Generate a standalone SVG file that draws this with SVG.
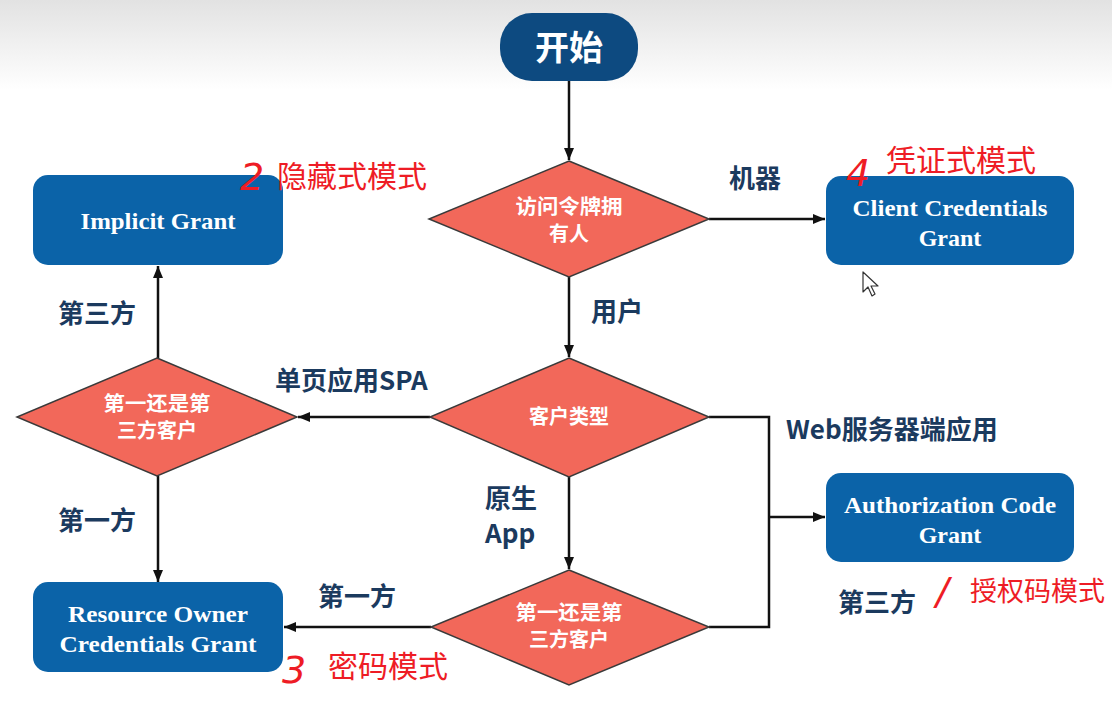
<svg xmlns="http://www.w3.org/2000/svg" width="1112" height="711" viewBox="0 0 1112 711">
<defs>
<linearGradient id="bg" x1="0" y1="0" x2="0" y2="1">
<stop offset="0" stop-color="#e2e2e2"/>
<stop offset="1" stop-color="#ffffff"/>
</linearGradient>
<marker id="ah" viewBox="0 0 12 10" refX="12" refY="5" markerWidth="12" markerHeight="10" markerUnits="userSpaceOnUse" orient="auto">
<path d="M0,0 L12,5 L0,10 Z" fill="#111"/>
</marker>
<style>
.box{fill:#0b63a8;}
.dia{fill:#f2685a;stroke:#3a3a3a;stroke-width:1.5;}
.bt{font-family:"Liberation Serif",serif;font-weight:bold;font-size:24px;fill:#ffffff;text-anchor:middle;}
.dt{font-family:"Noto Sans CJK SC",sans-serif;font-weight:bold;font-size:20px;fill:#ffffff;text-anchor:middle;}
.lb{font-family:"Noto Sans CJK SC",sans-serif;font-weight:bold;font-size:26px;fill:#1b3a5e;}
.an{font-family:"Noto Sans CJK SC",sans-serif;font-size:30px;fill:#ee1c25;}
.an2{font-family:"Noto Sans CJK SC",sans-serif;font-size:27px;fill:#ee1c25;}
.hw{font-family:"DejaVu Sans",sans-serif;font-weight:200;font-size:38px;fill:#ee1c25;font-style:italic;}
.cn{fill:none;stroke:#111;stroke-width:2.5;}
</style>
</defs>
<rect x="0" y="0" width="1112" height="90" fill="url(#bg)"/>
<rect x="0" y="90" width="1112" height="621" fill="#ffffff"/>

<g id="connectors">
<path class="cn" d="M569,81 V160" marker-end="url(#ah)"/>
<path class="cn" d="M709,219 H825" marker-end="url(#ah)"/>
<path class="cn" d="M569,277 V357" marker-end="url(#ah)"/>
<path class="cn" d="M430,417 H298" marker-end="url(#ah)"/>
<path class="cn" d="M709,417 H769 V627 H709"/>
<path class="cn" d="M769,517 H825" marker-end="url(#ah)"/>
<path class="cn" d="M569,477 V569" marker-end="url(#ah)"/>
<path class="cn" d="M431,627 H284" marker-end="url(#ah)"/>
<path class="cn" d="M158,358 V266" marker-end="url(#ah)"/>
<path class="cn" d="M158,476 V582" marker-end="url(#ah)"/>
</g>

<g id="start">
<rect x="500" y="13" width="138" height="68" rx="32" fill="#0d4a80"/>
<text x="569" y="60" font-family="Noto Sans CJK SC,sans-serif" font-weight="bold" font-size="34" fill="#fff" text-anchor="middle">开始</text>
</g>

<g id="d-owner">
<polygon class="dia" points="569,161 709,219 569,277 429,219"/>
<text class="dt" x="569" y="214" textLength="107" lengthAdjust="spacingAndGlyphs">访问令牌拥</text>
<text class="dt" x="569" y="241">有人</text>
</g>

<g id="d-client-type">
<polygon class="dia" points="569,358 709,417 569,477 430,417"/>
<text class="dt" x="569" y="424">客户类型</text>
</g>

<g id="d-party-left">
<polygon class="dia" points="157,358 297,417 157,476 17,417"/>
<text class="dt" x="157" y="411" textLength="107" lengthAdjust="spacingAndGlyphs">第一还是第</text>
<text class="dt" x="157" y="438">三方客户</text>
</g>

<g id="d-party-bottom">
<polygon class="dia" points="569,570 709,627 569,685 431,627"/>
<text class="dt" x="569" y="620" textLength="107" lengthAdjust="spacingAndGlyphs">第一还是第</text>
<text class="dt" x="569" y="647">三方客户</text>
</g>

<g id="implicit">
<rect class="box" x="33" y="175" width="250" height="90" rx="15"/>
<text class="bt" x="158" y="229" textLength="155" lengthAdjust="spacingAndGlyphs">Implicit Grant</text>
</g>

<g id="client-cred">
<rect class="box" x="826" y="176" width="248" height="89" rx="15"/>
<text class="bt" x="950" y="216" textLength="195" lengthAdjust="spacingAndGlyphs">Client Credentials</text>
<text class="bt" x="950" y="246">Grant</text>
</g>

<g id="auth-code">
<rect class="box" x="826" y="473" width="248" height="89" rx="15"/>
<text class="bt" x="950" y="513" textLength="212" lengthAdjust="spacingAndGlyphs">Authorization Code</text>
<text class="bt" x="950" y="543">Grant</text>
</g>

<g id="resource-owner">
<rect class="box" x="33" y="582" width="250" height="90" rx="15"/>
<text class="bt" x="158" y="622" textLength="180" lengthAdjust="spacingAndGlyphs">Resource Owner</text>
<text class="bt" x="158" y="652" textLength="197" lengthAdjust="spacingAndGlyphs">Credentials Grant</text>
</g>

<g id="labels">
<text class="lb" x="729" y="188">机器</text>
<text class="lb" x="591" y="321">用户</text>
<text class="lb" x="275" y="390">单页应用SPA</text>
<text class="lb" x="786" y="439">Web服务器端应用</text>
<text class="lb" x="58" y="323">第三方</text>
<text class="lb" x="58" y="530">第一方</text>
<text class="lb" x="318" y="606">第一方</text>
<text class="lb" x="485" y="508">原生</text>
<text class="lb" x="485" y="543">App</text>
<text class="lb" x="838" y="612">第三方</text>
</g>

<g id="annotations">
<text class="hw" x="240" y="190">2</text>
<text class="an" x="277" y="187">隐藏式模式</text>
<text class="hw" x="846" y="186">4</text>
<text class="an" x="886" y="171">凭证式模式</text>
<text class="hw" x="282" y="683">3</text>
<text class="an" x="328" y="677">密码模式</text>
<text class="hw" x="936" y="604">/</text>
<text class="an2" x="970" y="601">授权码模式</text>
</g>

<g id="cursor">
<path d="M863,272 L863,292 L868,287 L872,296 L875,294 L871,286 L878,286 Z" fill="#fff" stroke="#333" stroke-width="1.2" stroke-linejoin="round"/>
</g>
</svg>
